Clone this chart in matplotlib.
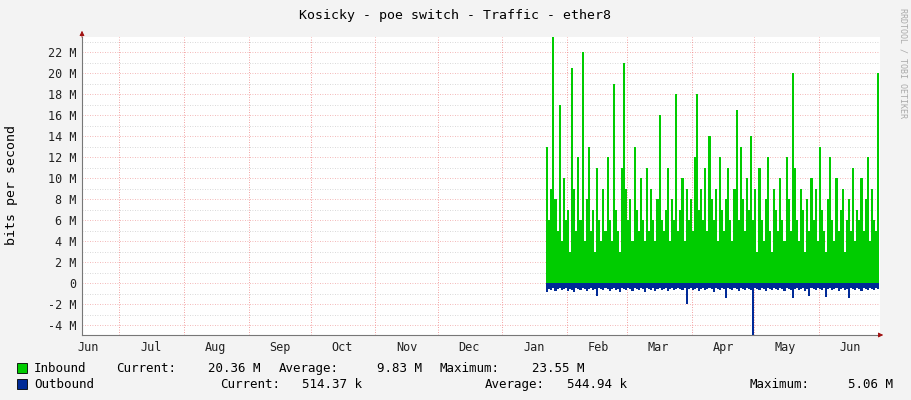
import matplotlib
matplotlib.use("Agg")
import matplotlib.pyplot as plt
import matplotlib.dates as mdates
import numpy as np
import datetime as dt

title = "Kosicky - poe switch - Traffic - ether8"
ylabel = "bits per second"
start_data = dt.date(2024, 1, 22)
# inbound daily peaks (Mbit/s), Jan 22 .. Jun 29
inbound = [13, 6, 9, 23.5, 8, 5, 17, 4, 10, 6, 7, 3, 20.5, 9, 5, 12, 6, 22, 4, 8,
           13, 5, 7, 3, 11, 6, 4, 9, 5, 12, 6, 4, 19, 7, 5, 3, 11, 21, 9, 6,
           8, 4, 13, 7, 5, 10, 6, 4, 11, 5, 9, 6, 4, 8, 16, 6, 5, 7, 11, 4,
           8, 6, 18, 5, 7, 10, 4, 9, 6, 8, 5, 12, 18, 7, 9, 6, 11, 5, 14, 8,
           6, 9, 4, 12, 7, 5, 8, 11, 6, 4, 9, 16.5, 6, 13, 8, 5, 10, 7, 14, 6,
           9, 3, 11, 6, 4, 8, 12, 5, 3, 9, 7, 5, 10, 6, 4, 12, 8, 5, 20, 11,
           6, 4, 9, 7, 3, 8, 5, 10, 6, 9, 4, 13, 7, 5, 3, 8, 12, 6, 4, 10,
           5, 7, 9, 3, 6, 8, 5, 11, 4, 7, 6, 10, 5, 8, 12, 4, 9, 6, 5, 20]
outbound = [-0.9, -0.6, -0.7, -0.5, -0.8, -0.6, -0.5, -0.7, -0.6, -0.5, -0.8, -0.6, -0.7, -0.9, -0.5, -0.6, -0.7, -0.5, -0.6, -0.8,
            -0.6, -0.5, -0.7, -0.6, -1.2, -0.5, -0.6, -0.7, -0.5, -0.6, -0.8, -0.6, -0.5, -0.7, -0.6, -0.9, -0.5, -0.6, -0.7, -0.5,
            -0.6, -0.8, -0.5, -0.6, -0.7, -0.5, -0.6, -0.9, -0.5, -0.6, -0.7, -0.5, -0.8, -0.6, -0.5, -0.7, -0.6, -0.5, -0.8, -0.6,
            -0.5, -0.7, -0.6, -0.5, -0.6, -0.7, -0.5, -2.0, -0.6, -0.5, -0.7, -0.6, -0.5, -0.8, -0.6, -0.5, -0.7, -0.6, -0.5, -0.6,
            -0.9, -0.5, -0.6, -0.7, -0.5, -0.6, -1.4, -0.5, -0.6, -0.7, -0.5, -0.6, -0.8, -0.5, -0.6, -0.7, -0.5, -0.6, -0.7, -5.0,
            -0.5, -0.6, -0.7, -0.5, -0.6, -0.8, -0.5, -0.6, -0.7, -0.5, -0.6, -0.7, -0.5, -0.6, -0.8, -0.5, -0.6, -0.7, -1.4, -0.6,
            -0.5, -0.7, -0.6, -0.5, -0.8, -0.6, -1.2, -0.5, -0.6, -0.7, -0.5, -0.6, -0.7, -0.5, -1.3, -0.6, -0.5, -0.7, -0.6, -0.5,
            -0.8, -0.6, -0.5, -0.7, -0.6, -1.4, -0.5, -0.6, -0.7, -0.5, -0.6, -0.8, -0.5, -0.6, -0.7, -0.5, -0.6, -0.7, -0.5, -0.6]
month_labels = ["Jun", "Jul", "Aug", "Sep", "Oct", "Nov", "Dec", "Jan", "Feb", "Mar", "Apr", "May", "Jun"]
yticks = [-4, -2, 0, 2, 4, 6, 8, 10, 12, 14, 16, 18, 20, 22]
series_names = ["Inbound", "Outbound"]
series_colors = ["#00cc00", "#002a97"]
stats_in = ["20.36 M", "9.83 M", "23.55 M"]
stats_out = ["514.37 k", "544.94 k", "5.06 M"]

fig = plt.figure(figsize=(9.11, 4.0), dpi=100, facecolor="#f3f3f3")
ax = fig.add_axes([82/911, 1-335/400, 798/911, 298/400])
ax.set_facecolor("white")
mono = "DejaVu Sans Mono"

dates = [start_data + dt.timedelta(days=i) for i in range(len(inbound))]
dn = mdates.date2num(dates)
xs = np.append(dn, dn[-1] + 1)
ax.stairs(inbound, xs, fill=True, color=series_colors[0], lw=0)
ax.stairs(outbound, xs, fill=True, color=series_colors[1], lw=0)

x0 = mdates.date2num(dt.date(2023, 6, 13))
x1 = mdates.date2num(dt.date(2024, 6, 30)) + 0.4
ax.set_xlim(x0, x1)
ax.set_ylim(-4.95, 23.43)

for m in np.arange(-4, 24, 1):
    ax.axhline(m, color="#cccccc" if m % 2 else "#f0a0a0", lw=0.6, ls=(0, (1, 2)), zorder=0.5)
mstarts = [dt.date(2023 + (6 + i) // 12, (6 + i) % 12 + 1, 1) for i in range(12)]
for d in mstarts:
    ax.axvline(mdates.date2num(d), color="#f08080", lw=0.6, ls=(0, (1, 2)), zorder=0.5)

mids = [dt.date(2023 + (5 + i) // 12, (5 + i) % 12 + 1, 16) for i in range(13)]
ax.set_xticks(mdates.date2num(mids))
ax.set_xticklabels(month_labels, family=mono, fontsize=8.5)
ax.set_yticks(yticks)
ax.set_yticklabels([("%d M" % v) if v else "0" for v in yticks], family=mono, fontsize=8.5)
ax.tick_params(length=0, pad=4, colors="#222222")
for s in ["top", "right"]:
    ax.spines[s].set_visible(False)
ax.spines["left"].set_color("#777777")
ax.spines["bottom"].set_color("#777777")

ax.annotate("", xy=(886/911, 65/400), xytext=(878/911, 65/400), xycoords="figure fraction",
            arrowprops=dict(arrowstyle="-|>", color="#a01010", lw=0.6, mutation_scale=7))
ax.annotate("", xy=(82/911, 1 - 28/400), xytext=(82/911, 1 - 40/400), xycoords="figure fraction",
            arrowprops=dict(arrowstyle="-|>", color="#a01010", lw=0.6, mutation_scale=7))

fig.text(455/911, 1 - 15/400, title, ha="center", va="center", family=mono, fontsize=9.5)
fig.text(12/911, 1 - 185/400, ylabel, ha="center", va="center", rotation=90, family=mono, fontsize=9.5)
fig.text(903/911, 1 - 8/400, "RRDTOOL / TOBI OETIKER", ha="center", va="top", rotation=270,
         family=mono, fontsize=6, color="#aaaaaa")

def t(x, y, s, ha="left"):
    fig.text(x/911, 1 - (y + 4)/400, s, va="baseline", ha=ha, family=mono, fontsize=9)

rows = [(368, stats_in, [(116, 260), (279, 422), (440, 584)]),
        (384, stats_out, [(220, 362), (485, 627), (750, 893)])]
for (yy, vals, pos), name, col in zip(rows, series_names, series_colors):
    fig.patches.append(plt.Rectangle((17/911, 1 - (yy + 5)/400), 10/911, 10/400, transform=fig.transFigure,
                                     facecolor=col, edgecolor="black", lw=0.6))
    t(34, yy, name)
    for lab, v, (xl, xr) in zip(["Current:", "Average:", "Maximum:"], vals, pos):
        t(xl, yy, lab)
        t(xr, yy, v, ha="right")

fig.savefig("out.png", dpi=100, facecolor=fig.get_facecolor())
